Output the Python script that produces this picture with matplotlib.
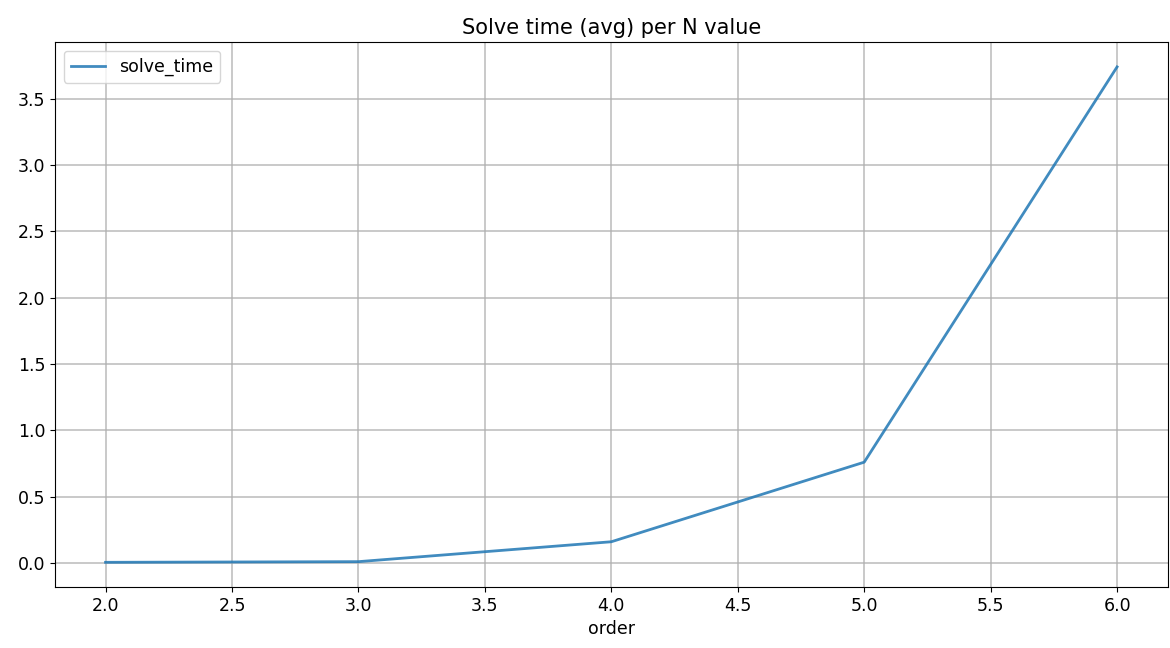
import matplotlib
matplotlib.use('Agg')
import matplotlib.pyplot as plt

order = [2, 3, 4, 5, 6]
solve_time = [0.005, 0.01, 0.16, 0.76, 3.74]

plt.rcParams['font.size'] = 12.5

fig = plt.figure(figsize=(11.7, 6.48), dpi=100)
ax = fig.add_axes([0.047, 0.094, 0.951, 0.841])
ax.plot(order, solve_time, color='#1f77b4', lw=2, alpha=0.85, label='solve_time')
ax.grid(True, color='#b0b0b0', lw=1.2, alpha=0.8)
ax.set_xticks([2.0, 2.5, 3.0, 3.5, 4.0, 4.5, 5.0, 5.5, 6.0])
ax.set_yticks([0.0, 0.5, 1.0, 1.5, 2.0, 2.5, 3.0, 3.5])
ax.set_xlabel('order')
ax.set_title('Solve time (avg) per N value', fontsize=15)
ax.legend(loc='upper left')

fig.savefig('out.png')
